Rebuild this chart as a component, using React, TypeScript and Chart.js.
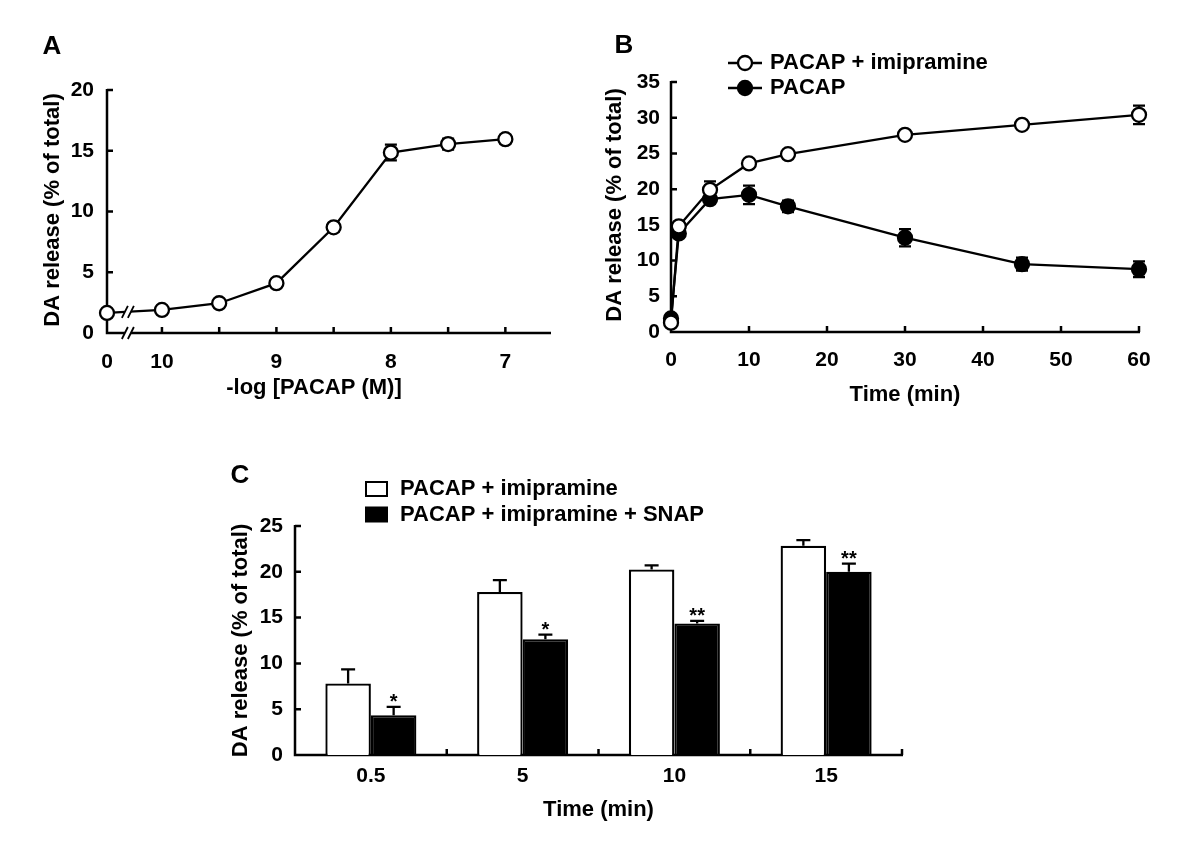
import React, { useEffect, useRef } from 'react';
import { Chart, registerables } from 'chart.js';

Chart.register(...registerables);

const FONT_FAMILY = '"Liberation Sans", Arial, Helvetica, sans-serif';

// ---------------- Panel A: concentration-response ----------------
const aConcentrations = [10, 9.5, 9, 8.5, 8, 7.5, 7]; // -log [PACAP (M)]
const aControlValue = 1.65;
const aControlError = 0.2;
const aValues = [1.9, 2.45, 4.1, 8.7, 14.85, 15.55, 15.95];
const aErrors = [0.3, 0.3, 0.3, 0.35, 0.65, 0.45, 0.35];
const aControlLabel = '0';
const aYTicks = [0, 5, 10, 15, 20];

// ---------------- Panel B: time course ----------------
const bTimes = [0, 1, 5, 10, 15, 30, 45, 60];
const bImipramine = [1.3, 14.8, 19.9, 23.6, 24.9, 27.6, 29.0, 30.4];
const bImipramineErr = [0.3, 0.4, 1.2, 0.6, 0.4, 0.5, 0.4, 1.3];
const bPacap = [1.9, 13.8, 18.6, 19.2, 17.6, 13.2, 9.5, 8.8];
const bPacapErr = [0.3, 0.5, 0.6, 1.3, 0.8, 1.2, 0.9, 1.1];
const bXTicks = [0, 10, 20, 30, 40, 50, 60];
const bYTicks = [0, 5, 10, 15, 20, 25, 30, 35];
const bLabels = ['PACAP + imipramine', 'PACAP'];

// ---------------- Panel C: bars ----------------
const cTimeLabels = ['0.5', '5', '10', '15'];
const cImipramine = [7.8, 17.8, 20.25, 22.85];
const cImipramineErr = [1.55, 1.3, 0.45, 0.6];
const cSnap = [4.35, 12.65, 14.35, 20.0];
const cSnapErr = [0.9, 0.5, 0.3, 0.9];
const cSignificance = ['*', '*', '**', '**'];
const cYTicks = [0, 5, 10, 15, 20, 25];
const cLabels = ['PACAP + imipramine', 'PACAP + imipramine + SNAP'];

// ---------------- layout constants ----------------
const A_CTRL_POS = 10.48; // axis position for the control ("0") point
const A_AXIS_END = 6.61;
const TICK_FONT = { family: FONT_FAMILY, size: 21, weight: 'bold' as const };
const TICK_LEN = 6;
const AXIS_W = 2.5;
const LINE_W = 2.3;

function drawText(
  ctx: CanvasRenderingContext2D,
  s: string,
  x: number,
  y: number,
  size: number,
  rotate = false,
  align: CanvasTextAlign = 'center'
) {
  ctx.save();
  ctx.fillStyle = '#000';
  ctx.font = `bold ${size}px ${FONT_FAMILY}`;
  ctx.textAlign = align;
  ctx.textBaseline = 'middle';
  ctx.translate(x, y);
  if (rotate) ctx.rotate(-Math.PI / 2);
  ctx.fillText(s, 0, 0);
  ctx.restore();
}

function drawFrame(chart: any, xTickPixels: number[], yTickPixels: number[]) {
  const { ctx, chartArea } = chart;
  const { left, right, top, bottom } = chartArea;
  ctx.save();
  ctx.strokeStyle = '#000';
  ctx.lineWidth = AXIS_W;
  ctx.beginPath();
  ctx.moveTo(left, top - 1);
  ctx.lineTo(left, bottom);
  ctx.lineTo(right + 1, bottom);
  for (const xp of xTickPixels) {
    ctx.moveTo(xp, bottom);
    ctx.lineTo(xp, bottom - TICK_LEN);
  }
  for (const yp of yTickPixels) {
    ctx.moveTo(left, yp);
    ctx.lineTo(left + TICK_LEN, yp);
  }
  ctx.stroke();
  ctx.restore();
}

function drawSymErrors(chart: any, dsIndex: number, values: number[], errs: number[], cap = 12) {
  const { ctx } = chart;
  const y = chart.scales.y;
  const meta = chart.getDatasetMeta(dsIndex);
  ctx.save();
  ctx.strokeStyle = '#000';
  ctx.lineWidth = LINE_W;
  meta.data.forEach((pt: any, j: number) => {
    const yt = y.getPixelForValue(values[j] + errs[j]);
    const yb = y.getPixelForValue(values[j] - errs[j]);
    ctx.beginPath();
    ctx.moveTo(pt.x, yt);
    ctx.lineTo(pt.x, yb);
    ctx.moveTo(pt.x - cap / 2, yt);
    ctx.lineTo(pt.x + cap / 2, yt);
    ctx.moveTo(pt.x - cap / 2, yb);
    ctx.lineTo(pt.x + cap / 2, yb);
    ctx.stroke();
  });
  ctx.restore();
}

function baseOptions(padding: any) {
  return {
    responsive: false,
    animation: false as const,
    devicePixelRatio: 1,
    events: [] as any[],
    layout: { padding, autoPadding: false },
    plugins: { legend: { display: false }, tooltip: { enabled: false } },
  };
}

function makeA(canvas: HTMLCanvasElement) {
  const allX = [A_CTRL_POS, ...aConcentrations];
  const allY = [aControlValue, ...aValues];
  const allE = [aControlError, ...aErrors];
  const plugin = {
    id: 'panelA',
    beforeDatasetsDraw(chart: any) {
      const { x, y } = chart.scales;
      drawFrame(
        chart,
        aConcentrations.map((v) => x.getPixelForValue(v)),
        aYTicks.map((v) => y.getPixelForValue(v))
      );
      drawSymErrors(chart, 0, allY, allE, 12);
    },
    afterDatasetsDraw(chart: any) {
      const { ctx } = chart;
      const { x, y } = chart.scales;
      const x0 = x.getPixelForValue(A_CTRL_POS);
      const x1 = x.getPixelForValue(aConcentrations[0]);
      const f = 0.38;
      const bx = x0 + (x1 - x0) * f;
      const lineY = y.getPixelForValue(aControlValue + (aValues[0] - aControlValue) * f);
      const axisY = y.getPixelForValue(0);
      for (const yy of [lineY, axisY]) {
        ctx.save();
        ctx.fillStyle = '#fff';
        ctx.fillRect(bx - 3, yy - 3, 6, 6);
        ctx.strokeStyle = '#000';
        ctx.lineWidth = 1.8;
        for (const dx of [-3, 3]) {
          ctx.beginPath();
          ctx.moveTo(bx + dx - 3, yy + 6);
          ctx.lineTo(bx + dx + 3, yy - 6);
          ctx.stroke();
        }
        ctx.restore();
      }
    },
    afterDraw(chart: any) {
      const { ctx, chartArea } = chart;
      drawText(ctx, 'A', 52, 47, 26);
      drawText(ctx, 'DA release (% of total)', chartArea.left - 54, 210, 22, true);
      drawText(ctx, '-log [PACAP (M)]', 314, 388, 22);
    },
  };
  return new Chart(canvas, {
    type: 'line',
    data: {
      datasets: [
        {
          label: 'PACAP',
          data: allX.map((v, i) => ({ x: v, y: allY[i] })),
          borderColor: '#000',
          borderWidth: LINE_W,
          pointRadius: 7,
          pointBorderWidth: 2.3,
          pointBackgroundColor: '#fff',
          pointBorderColor: '#000',
          clip: false as any,
          tension: 0,
        },
      ],
    },
    options: {
      ...baseOptions({ left: 0, right: 50, top: 90, bottom: 0 }),
      scales: {
        x: {
          type: 'linear',
          reverse: true,
          min: A_AXIS_END,
          max: A_CTRL_POS,
          grid: { display: false, drawTicks: false },
          border: { display: false },
          afterBuildTicks: (s: any) => {
            s.ticks = allX.map((v) => ({ value: v }));
          },
          afterFit: (s: any) => {
            s.height = 87;
          },
          ticks: {
            autoSkip: false,
            maxRotation: 0,
            padding: 17,
            color: '#000',
            font: TICK_FONT,
            callback: (v: any) => (v === A_CTRL_POS ? aControlLabel : Number.isInteger(v) ? String(v) : ''),
          },
        },
        y: {
          min: 0,
          max: 20,
          grid: { display: false, drawTicks: false },
          border: { display: false },
          afterBuildTicks: (s: any) => {
            s.ticks = aYTicks.map((v) => ({ value: v }));
          },
          afterFit: (s: any) => {
            s.width = 107;
          },
          ticks: { padding: 13, color: '#000', font: TICK_FONT },
        },
      },
    } as any,
    plugins: [plugin],
  });
}

function makeB(canvas: HTMLCanvasElement) {
  const plugin = {
    id: 'panelB',
    beforeDatasetsDraw(chart: any) {
      const { x, y } = chart.scales;
      drawFrame(
        chart,
        bXTicks.filter((v) => v > 0).map((v) => x.getPixelForValue(v)),
        bYTicks.map((v) => y.getPixelForValue(v))
      );
      drawSymErrors(chart, 1, bPacap, bPacapErr, 12);
      drawSymErrors(chart, 0, bImipramine, bImipramineErr, 12);
    },
    afterDraw(chart: any) {
      const { ctx, chartArea } = chart;
      drawText(ctx, 'B', 24, 46, 26);
      drawText(ctx, 'DA release (% of total)', chartArea.left - 56, 205, 22, true);
      drawText(ctx, 'Time (min)', (chartArea.left + chartArea.right) / 2, 395, 22);
      // legend
      const rows = [63, 88];
      const fills = ['#fff', '#000'];
      rows.forEach((ry, i) => {
        ctx.save();
        ctx.strokeStyle = '#000';
        ctx.lineWidth = LINE_W;
        ctx.beginPath();
        ctx.moveTo(128, ry);
        ctx.lineTo(162, ry);
        ctx.stroke();
        ctx.beginPath();
        ctx.arc(145, ry, 7, 0, Math.PI * 2);
        ctx.fillStyle = fills[i];
        ctx.fill();
        ctx.stroke();
        ctx.restore();
        drawText(ctx, bLabels[i], 170, ry, 22, false, 'left');
      });
    },
  };
  const common = {
    borderColor: '#000',
    borderWidth: LINE_W,
    pointRadius: 7,
    pointBorderWidth: 2.3,
    pointBorderColor: '#000',
    clip: false as any,
    tension: 0,
  };
  return new Chart(canvas, {
    type: 'line',
    data: {
      datasets: [
        {
          ...common,
          label: bLabels[0],
          data: bTimes.map((t, i) => ({ x: t, y: bImipramine[i] })),
          pointBackgroundColor: '#fff',
        },
        {
          ...common,
          label: bLabels[1],
          data: bTimes.map((t, i) => ({ x: t, y: bPacap[i] })),
          pointBackgroundColor: '#000',
        },
      ],
    },
    options: {
      ...baseOptions({ left: 0, right: 61, top: 82, bottom: 0 }),
      scales: {
        x: {
          type: 'linear',
          min: 0,
          max: 60,
          grid: { display: false, drawTicks: false },
          border: { display: false },
          afterBuildTicks: (s: any) => {
            s.ticks = bXTicks.map((v) => ({ value: v }));
          },
          afterFit: (s: any) => {
            s.height = 88;
          },
          ticks: { autoSkip: false, maxRotation: 0, padding: 16, color: '#000', font: TICK_FONT },
        },
        y: {
          min: 0,
          max: 35,
          grid: { display: false, drawTicks: false },
          border: { display: false },
          afterBuildTicks: (s: any) => {
            s.ticks = bYTicks.map((v) => ({ value: v }));
          },
          afterFit: (s: any) => {
            s.width = 71;
          },
          ticks: { padding: 11, color: '#000', font: TICK_FONT },
        },
      },
    } as any,
    plugins: [plugin],
  });
}

function makeC(canvas: HTMLCanvasElement) {
  const plugin = {
    id: 'panelC',
    beforeDatasetsDraw(chart: any) {
      const { x, y } = chart.scales;
      const n = cTimeLabels.length;
      const bounds: number[] = [];
      for (let i = 1; i <= n; i++) bounds.push(x.left + (x.width * i) / n);
      drawFrame(chart, bounds, cYTicks.map((v) => y.getPixelForValue(v)));
    },
    afterDatasetsDraw(chart: any) {
      const { ctx } = chart;
      const y = chart.scales.y;
      const sets = [
        [cImipramine, cImipramineErr],
        [cSnap, cSnapErr],
      ];
      sets.forEach(([vals, errs], di) => {
        const meta = chart.getDatasetMeta(di);
        meta.data.forEach((bar: any, j: number) => {
          const yv = y.getPixelForValue(vals[j]);
          const yt = y.getPixelForValue(vals[j] + errs[j]);
          ctx.save();
          ctx.strokeStyle = '#000';
          ctx.lineWidth = LINE_W;
          ctx.beginPath();
          ctx.moveTo(bar.x, yv);
          ctx.lineTo(bar.x, yt);
          ctx.moveTo(bar.x - 7, yt);
          ctx.lineTo(bar.x + 7, yt);
          ctx.stroke();
          ctx.restore();
          if (di === 1) {
            ctx.save();
            ctx.fillStyle = '#000';
            ctx.font = `bold 20px ${FONT_FAMILY}`;
            ctx.textAlign = 'center';
            ctx.textBaseline = 'alphabetic';
            ctx.fillText(cSignificance[j], bar.x, yt + 1);
            ctx.restore();
          }
        });
      });
    },
    afterDraw(chart: any) {
      const { ctx, chartArea } = chart;
      drawText(ctx, 'C', 40, 36, 26);
      drawText(ctx, 'DA release (% of total)', chartArea.left - 54, (chartArea.top + chartArea.bottom) / 2, 22, true);
      drawText(ctx, 'Time (min)', (chartArea.left + chartArea.right) / 2, 370, 22);
      const rows = [49, 74.5];
      const fills = ['#fff', '#000'];
      rows.forEach((ry, i) => {
        ctx.save();
        ctx.fillStyle = fills[i];
        ctx.fillRect(166, ry - 7, 21, 14);
        ctx.strokeStyle = '#000';
        ctx.lineWidth = 2;
        ctx.strokeRect(166, ry - 7, 21, 14);
        ctx.restore();
        drawText(ctx, cLabels[i], 200, ry, 22, false, 'left');
      });
    },
  };
  const common = {
    borderColor: '#000',
    borderWidth: 2.3,
    categoryPercentage: 0.6,
    barPercentage: 1.0,
  };
  return new Chart(canvas, {
    type: 'bar',
    data: {
      labels: cTimeLabels,
      datasets: [
        { ...common, label: cLabels[0], data: cImipramine, backgroundColor: '#fff' },
        { ...common, label: cLabels[1], data: cSnap, backgroundColor: '#000' },
      ],
    },
    options: {
      ...baseOptions({ left: 0, right: 58, top: 86, bottom: 0 }),
      scales: {
        x: {
          grid: { display: false, drawTicks: false },
          border: { display: false },
          afterFit: (s: any) => {
            s.height = 85;
          },
          ticks: { autoSkip: false, maxRotation: 0, padding: 9, color: '#000', font: TICK_FONT },
        },
        y: {
          min: 0,
          max: 25,
          grid: { display: false, drawTicks: false },
          border: { display: false },
          afterBuildTicks: (s: any) => {
            s.ticks = cYTicks.map((v) => ({ value: v }));
          },
          afterFit: (s: any) => {
            s.width = 95;
          },
          ticks: { padding: 12, color: '#000', font: TICK_FONT },
        },
      },
    } as any,
    plugins: [plugin],
  });
}

export default function App() {
  const refA = useRef<HTMLCanvasElement>(null);
  const refB = useRef<HTMLCanvasElement>(null);
  const refC = useRef<HTMLCanvasElement>(null);

  useEffect(() => {
    const charts = [makeA(refA.current!), makeB(refB.current!), makeC(refC.current!)];
    return () => charts.forEach((c) => c.destroy());
  }, []);

  return (
    <div style={{ position: 'absolute', left: 0, top: 0, width: 1200, height: 850, background: '#fff' }}>
      <canvas ref={refA} width={600} height={420} style={{ position: 'absolute', left: 0, top: 0 }} />
      <canvas ref={refB} width={600} height={420} style={{ position: 'absolute', left: 600, top: 0 }} />
      <canvas ref={refC} width={760} height={400} style={{ position: 'absolute', left: 200, top: 440 }} />
    </div>
  );
}
